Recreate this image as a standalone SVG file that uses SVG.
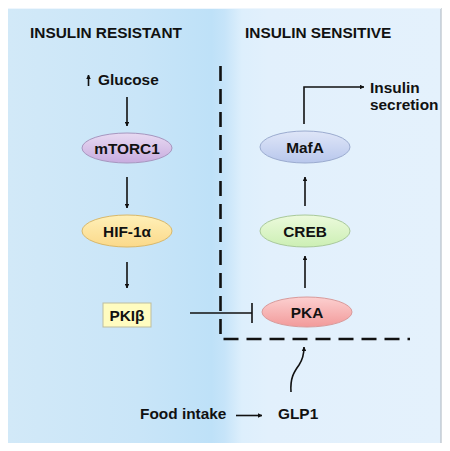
<svg xmlns="http://www.w3.org/2000/svg" width="450" height="451" viewBox="0 0 450 451">
<defs>
<linearGradient id="bg" gradientUnits="userSpaceOnUse" x1="8" y1="0" x2="441" y2="0">
<stop offset="0" stop-color="#d2e9f8"/>
<stop offset="0.3" stop-color="#c9e5f8"/>
<stop offset="0.47" stop-color="#bee1f8"/>
<stop offset="0.5" stop-color="#c6e4f9"/>
<stop offset="0.54" stop-color="#ddeffc"/>
<stop offset="0.6" stop-color="#e2f0fc"/>
<stop offset="1" stop-color="#e4f1fc"/>
</linearGradient>
<linearGradient id="gPurple" x1="0" y1="0" x2="0" y2="1">
<stop offset="0" stop-color="#e8daf2"/><stop offset="1" stop-color="#c8acdf"/>
</linearGradient>
<linearGradient id="gYellow" x1="0" y1="0" x2="0" y2="1">
<stop offset="0" stop-color="#fff0b8"/><stop offset="1" stop-color="#fbd98a"/>
</linearGradient>
<linearGradient id="gBlue" x1="0" y1="0" x2="0" y2="1">
<stop offset="0" stop-color="#dfe6f8"/><stop offset="1" stop-color="#b8c7ec"/>
</linearGradient>
<linearGradient id="gGreen" x1="0" y1="0" x2="0" y2="1">
<stop offset="0" stop-color="#ecfadc"/><stop offset="1" stop-color="#ccefb4"/>
</linearGradient>
<linearGradient id="gRed" x1="0" y1="0" x2="0" y2="1">
<stop offset="0" stop-color="#fcd0d0"/><stop offset="1" stop-color="#f29a9a"/>
</linearGradient>
<marker id="ah" viewBox="0 0 10 10" refX="9" refY="5" markerWidth="4.5" markerHeight="4.5" orient="auto" markerUnits="userSpaceOnUse">
<path d="M0,0 L10,5 L0,10 z" fill="#111"/>
</marker>
</defs>
<style>
text{font-family:"Liberation Sans",Arial,sans-serif;font-weight:bold;font-size:15.4px;fill:#111;}
.lbl{text-anchor:middle;}
.ln{stroke:#111;stroke-width:1.6;fill:none;}
.dash{stroke:#111;stroke-width:2.6;fill:none;stroke-dasharray:15 8;}
</style>
<rect x="8" y="8" width="433" height="435" fill="url(#bg)"/>
<line x1="441" y1="8" x2="441" y2="443" stroke="#b8c0c8" stroke-width="1.2"/>
<line x1="8" y1="8.5" x2="441" y2="8.5" stroke="#eef6fd" stroke-width="1"/>

<text x="30" y="38">INSULIN RESISTANT</text>
<text x="245" y="38">INSULIN SENSITIVE</text>

<g id="glucose">
<line x1="88.5" y1="86" x2="88.5" y2="75" class="ln" stroke-width="1.4" marker-end="url(#ah)"/>
<text x="98" y="85">Glucose</text>
</g>

<g id="mTORC1">
<ellipse cx="127" cy="148" rx="45" ry="15" fill="url(#gPurple)" stroke="#a796bf" stroke-width="1"/>
<text class="lbl" x="127" y="153.5">mTORC1</text>
</g>
<g id="HIF1a">
<ellipse cx="127" cy="231" rx="45" ry="16" fill="url(#gYellow)" stroke="#d9b86a" stroke-width="1"/>
<text class="lbl" x="127" y="236.5">HIF-1α</text>
</g>
<g id="PKIb">
<rect x="103" y="303" width="48" height="24" fill="#fffcc0" stroke="#bdbda0" stroke-width="1"/>
<text class="lbl" x="127" y="320.5">PKIβ</text>
</g>
<g id="MafA">
<ellipse cx="305" cy="147" rx="45" ry="16" fill="url(#gBlue)" stroke="#9babcf" stroke-width="1"/>
<text class="lbl" x="305" y="152.5">MafA</text>
</g>
<g id="CREB">
<ellipse cx="305" cy="231" rx="45" ry="16" fill="url(#gGreen)" stroke="#a9c99a" stroke-width="1"/>
<text class="lbl" x="305" y="236.5">CREB</text>
</g>
<g id="PKA">
<ellipse cx="307" cy="312" rx="45" ry="15" fill="url(#gRed)" stroke="#d99a9a" stroke-width="1"/>
<text class="lbl" x="307" y="317.5">PKA</text>
</g>
<g id="insulin-secretion">
<text x="370" y="93">Insulin</text>
<text x="370" y="110">secretion</text>
</g>
<g id="food-intake"><text x="140" y="419">Food intake</text></g>
<g id="GLP1"><text x="278" y="419">GLP1</text></g>

<g id="connectors">
<line x1="127" y1="97" x2="127" y2="126" class="ln" marker-end="url(#ah)"/>
<line x1="127" y1="177" x2="127" y2="208" class="ln" marker-end="url(#ah)"/>
<line x1="127" y1="262" x2="127" y2="288" class="ln" marker-end="url(#ah)"/>
<line x1="305" y1="206" x2="305" y2="177" class="ln" marker-end="url(#ah)"/>
<line x1="305" y1="288" x2="305" y2="256" class="ln" marker-end="url(#ah)"/>
<polyline points="304,124 304,87 364,87" class="ln" marker-end="url(#ah)"/>
<line x1="190" y1="313" x2="252" y2="313" class="ln"/>
<line x1="252" y1="303" x2="252" y2="323" class="ln"/>
<line x1="236" y1="415.5" x2="262" y2="415.5" class="ln" stroke-width="1.4" marker-end="url(#ah)"/>
<path d="M291,392 C290,378 294,372 299,365 C303,359 304,354 304,347" class="ln" stroke-width="1.8" marker-end="url(#ah)"/>
<path d="M220.5,66 V339 H410" class="dash"/>
</g>
</svg>
